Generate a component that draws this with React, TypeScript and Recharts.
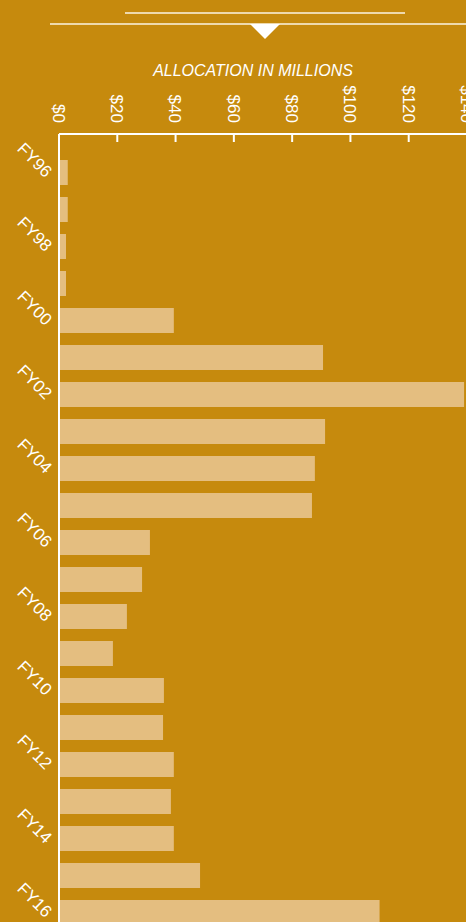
import { BarChart, Bar, XAxis, YAxis } from 'recharts'

const categories = ['FY96', 'FY97', 'FY98', 'FY99', 'FY00', 'FY01', 'FY02', 'FY03', 'FY04', 'FY05', 'FY06', 'FY07', 'FY08', 'FY09', 'FY10', 'FY11', 'FY12', 'FY13', 'FY14', 'FY15', 'FY16']
const allocations = [3, 3, 2.4, 2.4, 39.4, 90.6, 139, 91.3, 87.8, 86.8, 31.2, 28.5, 23.3, 18.5, 36, 35.7, 39.4, 38.4, 39.4, 48.4, 110]
const xTicks = [0, 20, 40, 60, 80, 100, 120, 140]

const FONT = '"Liberation Sans", Arial, Helvetica, sans-serif'
const BG = '#C68A0D'
const BAR = '#E4BE80'

const data = categories.map((name, i) => ({ name, value: allocations[i] }))

const XTick = (props: any) => {
  const { x, y, payload } = props
  return (
    <g>
      <line x1={x} y1={y} x2={x} y2={y + 8} stroke="#fff" strokeWidth={2} />
      <text
        transform={`translate(${x},${y - 11}) rotate(90)`}
        textAnchor="end"
        dy="0.36em"
        fill="#fff"
        fontSize={17}
        fontFamily={FONT}
      >
        ${payload.value}
      </text>
    </g>
  )
}

const YTick = (props: any) => {
  const { x, y, payload } = props
  return (
    <text
      transform={`translate(${x},${y + 6}) rotate(45)`}
      textAnchor="end"
      fill="#fff"
      fontSize={17}
      fontFamily={FONT}
    >
      {payload.value}
    </text>
  )
}

export default function App() {
  return (
    <div
      style={{
        position: 'absolute',
        left: 0,
        top: 0,
        width: 466,
        height: 922,
        overflow: 'hidden',
        background: BG,
      }}
    >
      <svg width={466} height={100} style={{ position: 'absolute', left: 0, top: 0 }}>
        <line x1={125} y1={13} x2={405} y2={13} stroke="#FBF3E2" strokeWidth={1.4} />
        <line x1={50} y1={24} x2={466} y2={24} stroke="#FBF3E2" strokeWidth={1.4} />
        <polygon points="250,24 280,24 265,39" fill="#fff" />
        <text
          x={253}
          y={76}
          textAnchor="middle"
          fill="#fff"
          fontSize={16}
          fontStyle="italic"
          fontFamily={FONT}
        >
          ALLOCATION IN MILLIONS
        </text>
      </svg>
      <div style={{ position: 'absolute', left: 0, top: 0 }}>
        <BarChart
          width={480}
          height={940}
          data={data}
          layout="vertical"
          margin={{ top: 0, right: 13, bottom: 9, left: 0 }}
        >
          <XAxis
            type="number"
            orientation="top"
            domain={[0, 140]}
            ticks={xTicks}
            height={134}
            tickSize={0}
            tickMargin={0}
            tickLine={false}
            axisLine={{ stroke: '#fff', strokeWidth: 2 }}
            tick={<XTick />}
            interval={0}
          />
          <YAxis
            type="category"
            dataKey="name"
            width={59}
            tickSize={0}
            tickMargin={14}
            tickLine={false}
            axisLine={{ stroke: '#fff', strokeWidth: 2 }}
            tick={<YTick />}
            interval={1}
            padding={{ top: 20, bottom: 0 }}
          />
          <Bar dataKey="value" fill={BAR} barSize={25} isAnimationActive={false} />
        </BarChart>
      </div>
    </div>
  )
}
